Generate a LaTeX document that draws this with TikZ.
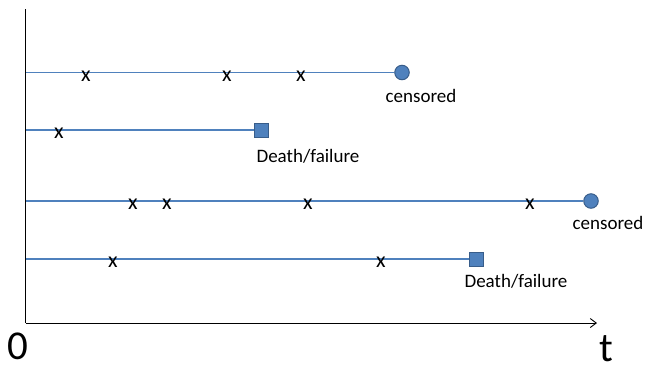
\documentclass[tikz,border=0pt]{standalone}
\usepackage{fontspec}
\setmainfont{Carlito}
\usetikzlibrary{arrows.meta}
\definecolor{lineblue}{HTML}{4F81BD}
\definecolor{markfill}{HTML}{4F81BD}
\definecolor{markdraw}{HTML}{385D8A}
\tikzset{
  tline/.style={draw=lineblue, line width=1.4pt},
  evt/.style={inner sep=0pt, font=\fontsize{22}{22}\selectfont, anchor=center},
  cens/.style={circle, fill=markfill, draw=markdraw, line width=1pt, minimum size=14.5pt, inner sep=0pt},
  fail/.style={rectangle, fill=markfill, draw=markdraw, line width=1pt, minimum size=14pt, inner sep=0pt},
  lbl/.style={inner sep=0pt, font=\fontsize{19}{19}\selectfont, anchor=center},
  axislbl/.style={inner sep=0pt, font=\fontsize{41}{41}\selectfont, anchor=base},
  axis/.style={draw=black, line width=1.3pt}
}
\begin{document}
\begin{tikzpicture}[x=1pt,y=-1pt]
\useasboundingbox (0,0) rectangle (649,368);
% axes
\coordinate (top) at (25.5,9);
\coordinate (origin) at (25.5,323);
\coordinate (tend) at (597,323);
\draw[axis] (top) -- (origin);
\draw[draw=black, line width=0.9pt, -{Straight Barb[length=6pt,width=9pt]}] (origin) -- (tend);
\node[axislbl] (zero) at (17.5,359) {0};
\node[axislbl] (tlab) at (606,361) {t};
% line 1
\coordinate (s1) at (26,72.5);
\node[cens] (c1) at (402,72.5) {};
\draw[tline] (s1) -- (c1);
\node[lbl] (l1) at (421,96) {censored};
\node[evt] (x11) at (86,76) {x};
\node[evt] (x12) at (227,76) {x};
\node[evt] (x13) at (301,76) {x};
% line 2
\coordinate (s2) at (26,130);
\node[fail] (f2) at (261,130) {};
\draw[tline] (s2) -- (f2);
\node[lbl] (l2) at (308,156) {Death/failure};
\node[evt] (x21) at (59,133.5) {x};
% line 3
\coordinate (s3) at (26,201);
\node[cens] (c3) at (591,201) {};
\draw[tline] (s3) -- (c3);
\node[lbl] (l3) at (608,223) {censored};
\node[evt] (x31) at (133,204.5) {x};
\node[evt] (x32) at (167,204.5) {x};
\node[evt] (x33) at (308,204.5) {x};
\node[evt] (x34) at (530,204.5) {x};
% line 4
\coordinate (s4) at (26,259);
\node[fail] (f4) at (476,259) {};
\draw[tline] (s4) -- (f4);
\node[lbl] (l4) at (516,281) {Death/failure};
\node[evt] (x41) at (113,262.5) {x};
\node[evt] (x42) at (381,262.5) {x};
\end{tikzpicture}
\end{document}
